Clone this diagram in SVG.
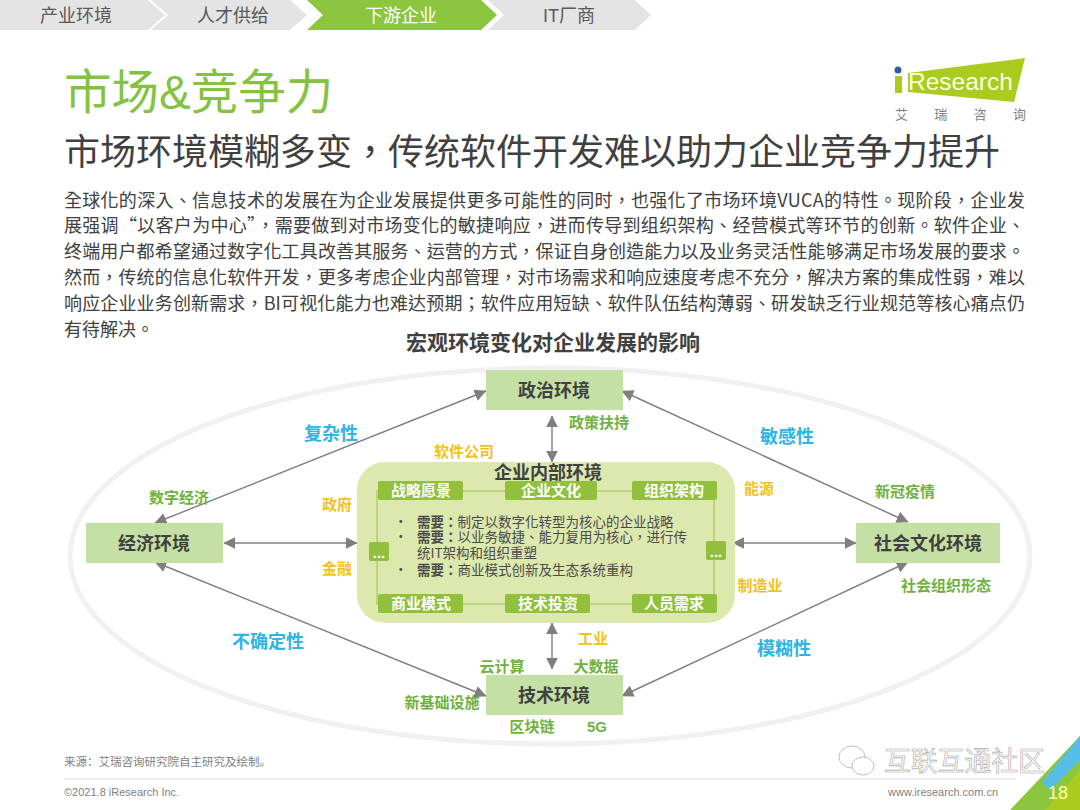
<svg xmlns="http://www.w3.org/2000/svg" width="1080" height="810" viewBox="0 0 1080 810">
<defs>
<marker id="ah" viewBox="0 0 10 10" refX="9.5" refY="5" markerWidth="12" markerHeight="12" markerUnits="userSpaceOnUse" orient="auto-start-reverse"><path d="M0,0L10,5L0,10Z" fill="#7f7f7f"/></marker>
</defs>
<style>
text{font-family:"Liberation Sans","Noto Sans CJK SC",sans-serif}
.nav{font-size:18px;fill:#595959;text-anchor:middle}
.env{fill:#c5e0a5}
.envt{font-size:18px;font-weight:700;fill:#404040;text-anchor:middle}
.body{font-size:18px;fill:#404040;font-family:"Noto Sans CJK TC",sans-serif}
.cy{font-size:18px;font-weight:700;fill:#2fb4e3;text-anchor:middle}
.gr{font-size:15px;font-weight:700;fill:#6fb23f;text-anchor:middle}
.ye{font-size:15px;font-weight:700;fill:#f2c21a;text-anchor:middle}
.tag{fill:#90c03c}
.tagt{font-size:15px;font-weight:700;fill:#fff;text-anchor:middle}
.need{font-size:13.5px;fill:#4a4a4a;font-family:"Noto Sans CJK TC",sans-serif}
.conn{fill:none;stroke:#7f7f7f;stroke-width:1.4;marker-start:url(#ah);marker-end:url(#ah)}
</style>
<rect width="1080" height="810" fill="#fff"/>
<g id="nav">
<path d="M0,0H148L165,15L148,30H0Z" fill="#e4e4e4"/>
<path d="M151,0H290L307,15L290,30H151L168,15Z" fill="#e4e4e4"/>
<path d="M307,0H481L497,15L481,30H307L323,15Z" fill="#8cc63f"/>
<path d="M488,0H635L651,15L635,30H488L504,15Z" fill="#e4e4e4"/>
<text class="nav" x="76" y="22">产业环境</text>
<text class="nav" x="233" y="22">人才供给</text>
<text class="nav" x="401" y="22" style="fill:#fff">下游企业</text>
<text class="nav" x="569" y="22">IT厂商</text>
</g>
<text x="64" y="109" font-size="47.5" fill="#84c341">市场&amp;竞争力</text>
<g id="logo">
<path d="M908,73L1025,58L1014,102L908,92Z" fill="#a9cc1f"/>
<circle cx="898" cy="70" r="3.5" fill="#2a62a8"/>
<rect x="895" y="76" width="7" height="17" fill="#a9cc1f"/>
<text x="908" y="90" font-size="24.5" fill="#fdfde0">Research</text>
<text x="895" y="119" font-size="13" fill="#7f7f7f" textLength="131">艾瑞咨询</text>
</g>
<text x="64" y="165" font-size="36" fill="#404040" style="font-family:'Noto Sans CJK TC',sans-serif" textLength="936">市场环境模糊多变，传统软件开发难以助力企业竞争力提升</text>
<g id="body">
<text class="body" x="64" y="207" textLength="961">全球化的深入、信息技术的发展在为企业发展提供更多可能性的同时，也强化了市场环境VUCA的特性。现阶段，企业发</text>
<text class="body" x="64" y="232" textLength="961">展强调“以客户为中心”，需要做到对市场变化的敏捷响应，进而传导到组织架构、经营模式等环节的创新。软件企业、</text>
<text class="body" x="64" y="258" textLength="961">终端用户都希望通过数字化工具改善其服务、运营的方式，保证自身创造能力以及业务灵活性能够满足市场发展的要求。</text>
<text class="body" x="64" y="284" textLength="961">然而，传统的信息化软件开发，更多考虑企业内部管理，对市场需求和响应速度考虑不充分，解决方案的集成性弱，难以</text>
<text class="body" x="64" y="310" textLength="961">响应企业业务创新需求，BI可视化能力也难达预期；软件应用短缺、软件队伍结构薄弱、研发缺乏行业规范等核心痛点仍</text>
<text class="body" x="64" y="336">有待解决。</text>
</g>
<text x="553" y="350" font-size="21" font-weight="700" fill="#404040" text-anchor="middle">宏观环境变化对企业发展的影响</text>
<ellipse cx="550" cy="556" rx="480" ry="188" fill="none" stroke="#f1f1f1" stroke-width="5"/>
<g id="connectors">
<path class="conn" d="M155,523L486,391"/>
<path class="conn" d="M155,562L486,696"/>
<path class="conn" d="M622,391L908,522"/>
<path class="conn" d="M622,696L908,562"/>
<path class="conn" d="M224,543H357"/>
<path class="conn" d="M733,543H856"/>
<path class="conn" d="M552,416V462"/>
<path class="conn" d="M552,623V669"/>
</g>
<g id="n-politics"><rect class="env" x="486" y="370" width="137" height="40"/><text class="envt" x="554" y="397">政治环境</text></g>
<g id="n-economy"><rect class="env" x="86" y="523" width="137" height="40"/><text class="envt" x="154" y="550">经济环境</text></g>
<g id="n-society"><rect class="env" x="856" y="523" width="144" height="40"/><text class="envt" x="928" y="550">社会文化环境</text></g>
<g id="n-tech"><rect class="env" x="486" y="675" width="137" height="40"/><text class="envt" x="554" y="702">技术环境</text></g>
<g id="n-inner">
<rect x="357" y="462" width="378" height="161" rx="28" fill="#dce8ad"/>
<rect x="377" y="491" width="337" height="113" fill="none" stroke="#9cc14f" stroke-width="1"/>
<text x="548" y="479" font-size="18" font-weight="700" fill="#404040" text-anchor="middle">企业内部环境</text>
<rect class="tag" x="378" y="481" width="85" height="19" rx="2"/><text class="tagt" x="421" y="496">战略愿景</text>
<rect class="tag" x="505" y="481" width="92" height="19" rx="2"/><text class="tagt" x="551" y="496">企业文化</text>
<rect class="tag" x="632" y="481" width="85" height="19" rx="2"/><text class="tagt" x="674" y="496">组织架构</text>
<rect class="tag" x="378" y="594" width="85" height="19" rx="2"/><text class="tagt" x="421" y="609">商业模式</text>
<rect class="tag" x="505" y="594" width="85" height="19" rx="2"/><text class="tagt" x="548" y="609">技术投资</text>
<rect class="tag" x="632" y="594" width="85" height="19" rx="2"/><text class="tagt" x="674" y="609">人员需求</text>
<rect class="tag" x="369" y="542" width="20" height="19" rx="2"/><text class="tagt" x="379" y="558">...</text>
<rect class="tag" x="706" y="541" width="20" height="19" rx="2"/><text class="tagt" x="716" y="557">...</text>
<text class="need" x="394" y="526">•</text><text class="need" x="417" y="527"><tspan font-weight="700">需要：</tspan>制定以数字化转型为核心的企业战略</text>
<text class="need" x="394" y="541">•</text><text class="need" x="417" y="542"><tspan font-weight="700">需要：</tspan>以业务敏捷、能力复用为核心，进行传</text>
<text class="need" x="417" y="558">统IT架构和组织重塑</text>
<text class="need" x="394" y="574">•</text><text class="need" x="417" y="575"><tspan font-weight="700">需要：</tspan>商业模式创新及生态系统重构</text>
</g>
<g id="labels">
<text class="cy" x="331" y="440">复杂性</text>
<text class="cy" x="787" y="443">敏感性</text>
<text class="cy" x="268" y="648">不确定性</text>
<text class="cy" x="784" y="655">模糊性</text>
<text class="gr" x="179" y="503">数字经济</text>
<text class="gr" x="599" y="428">政策扶持</text>
<text class="gr" x="905" y="497">新冠疫情</text>
<text class="gr" x="946" y="591">社会组织形态</text>
<text class="gr" x="502" y="672">云计算</text>
<text class="gr" x="596" y="672">大数据</text>
<text class="gr" x="442" y="708">新基础设施</text>
<text class="gr" x="532" y="732">区块链</text>
<text class="gr" x="597" y="732">5G</text>
<text class="ye" x="464" y="457">软件公司</text>
<text class="ye" x="337" y="510">政府</text>
<text class="ye" x="337" y="574">金融</text>
<text class="ye" x="759" y="494">能源</text>
<text class="ye" x="760" y="591">制造业</text>
<text class="ye" x="593" y="644">工业</text>
</g>
<text x="64" y="766" font-size="11.5" fill="#7f7f7f">来源：艾瑞咨询研究院自主研究及绘制。</text>
<line x1="64" y1="779" x2="1016" y2="779" stroke="#d9d9d9"/>
<text x="64" y="796" font-size="11" fill="#7f7f7f">©2021.8 iResearch Inc.</text>
<text x="888" y="796" font-size="11" fill="#7f7f7f">www.iresearch.com.cn</text>
<g id="corner">
<path d="M1080,736V810H1010Z" fill="#8cc63f"/>
<path d="M1080,736V760L1050,790L1042,782Z" fill="#56bde6"/>
<path d="M1080,770V810H1045Z" fill="#a9cc1f"/>
<text x="1048" y="799" font-size="18" fill="#fdfdb0">18</text>
</g>
<g id="watermark">
<ellipse cx="852" cy="757" rx="13" ry="11" fill="#fff" stroke="#bfbfbf"/>
<ellipse cx="863" cy="766" rx="11" ry="9" fill="#fff" stroke="#bfbfbf"/>
<text x="884" y="771" font-size="26.8" fill="#fff" stroke="#a6a6a6" stroke-width=".6">互联互通社区</text>
</g>
</svg>
